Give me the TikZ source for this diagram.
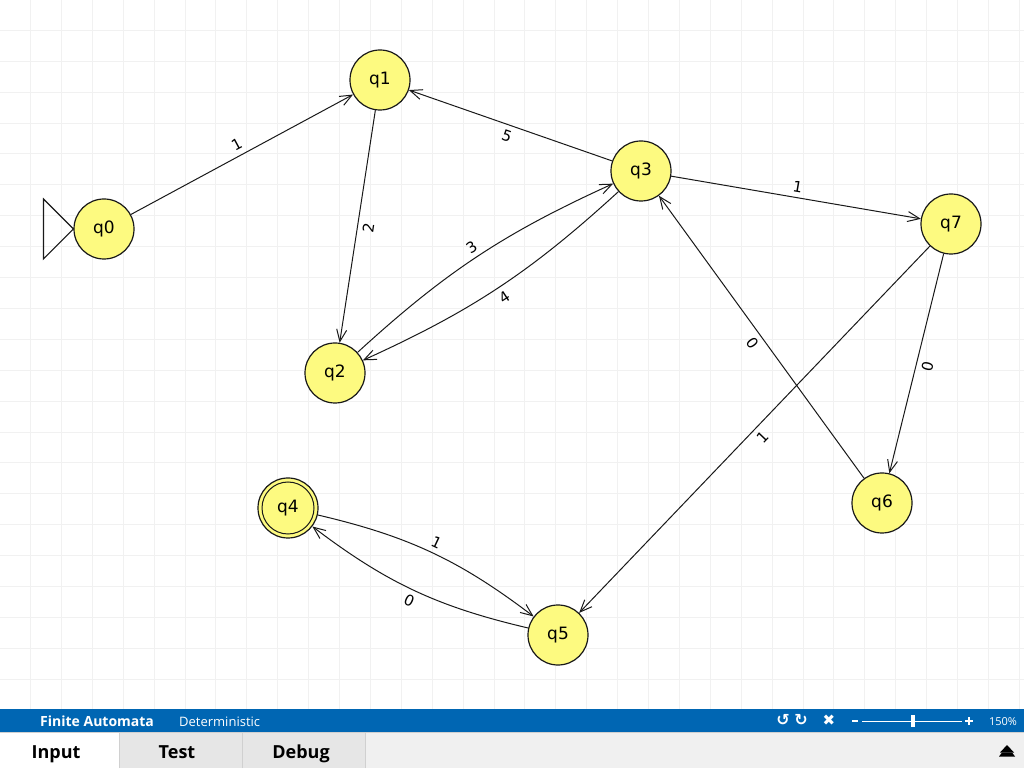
\documentclass[tikz,border=0pt]{standalone}
\usepackage{fontspec}
\setmainfont{Open Sans}
\newfontfamily\dvs{DejaVu Sans}
\usetikzlibrary{arrows.meta}
\definecolor{stateyellow}{RGB}{253,250,128}
\definecolor{barblue}{RGB}{0,102,179}
\definecolor{gridgray}{RGB}{241,241,241}
\definecolor{tabgray}{RGB}{230,230,230}
\definecolor{tabbg}{RGB}{240,240,240}
\definecolor{sepgray}{RGB}{208,208,208}
\definecolor{edgeclr}{RGB}{25,25,25}
\begin{document}
\begin{tikzpicture}[x=1pt,y=1pt,
  state/.style={circle, draw=edgeclr, line width=1.2pt, fill=stateyellow, minimum size=60pt, inner sep=0pt, font=\dvs\fontsize{17}{19}\selectfont},
  edge/.style={draw=edgeclr, line width=1pt, -{Straight Barb[length=12pt,width=10pt]}},
  lbl/.style={font=\dvs\fontsize{15}{17}\selectfont, sloped, inner sep=5pt},
  bartext/.style={text=white, inner sep=0pt},
  tabtext/.style={anchor=base, inner sep=0pt, font=\bfseries\fontsize{18}{20}\selectfont}
]
\useasboundingbox (0,0) rectangle (1024,768);
\fill[white] (0,0) rectangle (1024,768);
% grid
\foreach \i in {0,...,32} {
  \draw[gridgray, line width=0.9pt] ({30.5+30.9*\i},59) -- ({30.5+30.9*\i},768);
}
\foreach \j in {0,...,21} {
  \draw[gridgray, line width=0.9pt] (0,{768-30.3-30.9*\j}) -- (1024,{768-30.3-30.9*\j});
}
% states
\node[state] (q0) at (104,539) {q0};
\node[state] (q1) at (380,688) {q1};
\node[state] (q3) at (641,597) {q3};
\node[state] (q7) at (951,544) {q7};
\node[state] (q2) at (335,395) {q2};
\node[state] (q6) at (882,265) {q6};
\node[state] (q4) at (288,260) {q4};
\node[state] (q5) at (558,133) {q5};
\draw[edgeclr, line width=1pt] (q4.center) circle[radius=26];
% start marker
\draw[edgeclr, line width=1.2pt] (q0.west) -- ++(-30,30) -- ++(0,-60) -- cycle;
% transitions
\draw[edge] (q0) -- node[lbl, above] {1} (q1);
\draw[edge] (q1) -- node[lbl, below] {2} (q2);
\draw[edge] (q3) -- node[lbl, below] {5} (q1);
\draw[edge] (q2) to[bend left=9] node[lbl, above] {3} (q3);
\draw[edge] (q3) to[bend left=9] node[lbl, below] {4} (q2);
\draw[edge] (q3) -- node[lbl, above] {1} (q7);
\draw[edge] (q7) -- node[lbl, below] {0} (q6);
\draw[edge] (q6) -- node[lbl, below] {0} (q3);
\draw[edge] (q7) -- node[lbl, below] {1} (q5);
\draw[edge] (q4) to[bend left=12] node[lbl, above] {1} (q5);
\draw[edge] (q5) to[bend left=12] node[lbl, below] {0} (q4);
% bottom bar
\fill[barblue] (0,36) rectangle (1024,59);
\fill[tabbg] (0,0) rectangle (1024,35);
\draw[sepgray, line width=1pt] (0,35.5) -- (1024,35.5);
\fill[white] (0,0) rectangle (119,35);
\fill[tabgray] (120,0) rectangle (242,35);
\fill[tabgray] (243,0) rectangle (365,35);
\draw[sepgray, line width=1pt] (119.5,0) -- (119.5,35);
\draw[sepgray, line width=1pt] (242.5,0) -- (242.5,35);
\draw[sepgray, line width=1pt] (365.5,0) -- (365.5,35);
\node[bartext, anchor=base west, font=\bfseries\fontsize{14}{16}\selectfont] (fa) at (40,41.5) {Finite Automata};
\node[bartext, anchor=base west, font=\fontsize{13}{15}\selectfont] (det) at (179,41.5) {Deterministic};
\node[bartext, font=\dvs\bfseries\fontsize{16}{18}\selectfont] (undo) at (783,48) {↺};
\node[bartext, font=\dvs\bfseries\fontsize{16}{18}\selectfont] (redo) at (801,48) {↻};
\node[bartext, font=\dvs\fontsize{15}{17}\selectfont] (close) at (829,48) {✖};
\draw[white, line width=1.6pt] (852,47) -- (858,47);
\draw[white, line width=0.8pt] (862,47) -- (962,47);
\fill[white] (911,41) rectangle (914.5,53);
\draw[white, line width=1.6pt] (965,47) -- (973,47) (969,43) -- (969,51);
\node[bartext, anchor=base, font=\fontsize{11}{13}\selectfont] (zoom) at (1003,43) {150\%};
\node[tabtext] (tin) at (56,10) {Input};
\node[tabtext] (ttest) at (177,10) {Test};
\node[tabtext] (tdbg) at (301,10) {Debug};
% eject icon
\fill[black] (1000,15.5) -- (1007,23) -- (1014,15.5) -- cycle;
\fill[black] (999,11.5) -- (1015,11.5) -- (1012,15.5) -- (1002,15.5) -- cycle;
\end{tikzpicture}
\end{document}
